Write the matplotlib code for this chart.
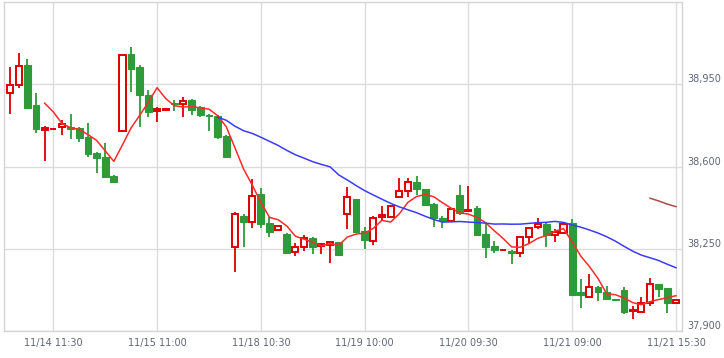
import numpy as np
import pandas as pd
import matplotlib
matplotlib.use("Agg")
import matplotlib.pyplot as plt

# 30-minute candles, 13 per session, 11/14 09:00 .. 11/21 15:30
opens = [38912, 38946, 39033, 38862, 38755, 38759, 38770, 38769, 38763, 38726,
         38658, 38641, 38560, 38752, 39080, 39025, 38905, 38835, 38841, 38872,
         38865, 38884, 38852, 38821, 38815, 38730, 38259, 38390, 38363, 38482,
         38359, 38330, 38313, 38236, 38256, 38296, 38261, 38266, 38279, 38397,
         38462, 38326, 38284, 38385, 38387, 38469, 38497, 38533, 38505, 38441,
         38380, 38370, 38479, 38410, 38425, 38313, 38262, 38243, 38242, 38231,
         38302, 38343, 38356, 38309, 38316, 38359, 38066, 38046, 38086, 38065,
         38036, 38075, 37984, 37982, 38018, 38100, 38082, 38020]
highs = [39023, 39082, 39057, 38912, 38773, 38762, 38798, 38824, 38767, 38784,
         38660, 38702, 38562, 39076, 39108, 39033, 38926, 38855, 38844, 38884,
         38896, 38888, 38858, 38824, 38820, 38732, 38408, 38397, 38547, 38508,
         38387, 38346, 38315, 38273, 38307, 38300, 38275, 38284, 38280, 38512,
         38463, 38342, 38390, 38434, 38431, 38550, 38550, 38561, 38506, 38446,
         38388, 38418, 38522, 38517, 38430, 38356, 38284, 38246, 38244, 38305,
         38344, 38380, 38364, 38333, 38362, 38376, 38120, 38141, 38090, 38092,
         38037, 38086, 38008, 38046, 38124, 38102, 38084, 38033]
lows = [38823, 38936, 38851, 38742, 38623, 38758, 38732, 38719, 38706, 38640,
        38571, 38550, 38534, 38751, 38919, 38767, 38810, 38789, 38840, 38838,
        38812, 38820, 38812, 38753, 38716, 38640, 38152, 38259, 38337, 38337,
        38302, 38330, 38230, 38221, 38242, 38227, 38227, 38188, 38222, 38333,
        38323, 38248, 38266, 38373, 38387, 38467, 38469, 38479, 38438, 38344,
        38337, 38370, 38394, 38410, 38305, 38210, 38233, 38242, 38185, 38216,
        38276, 38333, 38259, 38279, 38312, 38050, 37998, 38044, 38029, 38033,
        38033, 37971, 37951, 37975, 38008, 38043, 37975, 38018]
closes = [38946, 39027, 38851, 38759, 38764, 38761, 38780, 38761, 38723, 38655,
          38638, 38557, 38536, 39075, 39017, 38906, 38834, 38845, 38843, 38865,
          38879, 38842, 38818, 38817, 38727, 38642, 38397, 38365, 38476, 38357,
          38323, 38346, 38233, 38256, 38295, 38259, 38269, 38279, 38222, 38469,
          38323, 38287, 38382, 38394, 38431, 38497, 38533, 38506, 38438, 38382,
          38370, 38418, 38404, 38414, 38309, 38259, 38245, 38245, 38231, 38302,
          38337, 38354, 38309, 38322, 38357, 38053, 38052, 38086, 38065, 38035,
          38034, 37982, 37988, 38020, 38100, 38080, 38020, 38031]

tick_pos = [5, 17, 29, 41, 53, 65, 77]
tick_labels = ["11/14 11:30", "11/15 11:00", "11/18 10:30", "11/19 10:00",
               "11/20 09:30", "11/21 09:00", "11/21 15:30"]
price_ticks = [37900, 38250, 38600, 38950]

df = pd.DataFrame({"open": opens, "high": highs, "low": lows, "close": closes})
df["ma5"] = df["close"].rolling(5).mean()
df["ma25"] = df["close"].rolling(25).mean()
df["ma75"] = df["close"].rolling(75).mean()
idx = np.arange(len(df))

up_color = "#dd0000"
down_color = "#2e9a3a"
up = df["close"] >= df["open"]
colors = np.where(up, up_color, down_color)

fig = plt.figure(figsize=(7.24, 3.58), dpi=100)
ax = fig.add_axes([4 / 724, 27 / 358, 678 / 724, 329 / 358])

# wicks
ax.vlines(idx, df["low"], df["high"], colors=colors, lw=1.3, zorder=2)

# bodies
body_bottom = np.minimum(df["open"], df["close"])
body_height = (df["close"] - df["open"]).abs()
ax.bar(idx[up], body_height[up], bottom=body_bottom[up], width=0.7,
       facecolor="white", edgecolor=up_color, linewidth=1.4, zorder=3)
ax.bar(idx[~up], body_height[~up], bottom=body_bottom[~up], width=0.78,
       facecolor=down_color, edgecolor=down_color, linewidth=0.8, zorder=3)

# moving averages
ax.plot(idx, df["ma5"], color="#ff2a2a", lw=1.1, zorder=4)
ax.plot(idx, df["ma25"], color="#3b3bff", lw=1.1, zorder=4)
ax.plot(idx, df["ma75"], color="#b04a4a", lw=1.1, zorder=4)

ax.set_xlim(-0.7, 77.7)
ax.set_ylim(37900, 39300)

ax.set_xticks(tick_pos)
ax.set_xticklabels(tick_labels)
ax.yaxis.tick_right()
ax.set_yticks(price_ticks)
ax.set_yticklabels([f"{v:,}" for v in price_ticks])
for lbl in ax.get_yticklabels():
    lbl.set_va("bottom")
ax.tick_params(axis="both", length=0, labelsize=7, labelcolor="#5f6673")
ax.tick_params(axis="x", pad=5)
ax.tick_params(axis="y", pad=4)

ax.grid(True, color="#dcdcdc", lw=1)
ax.set_axisbelow(True)
for s in ax.spines.values():
    s.set_color("#d4d4d4")
    s.set_linewidth(1)

fig.savefig("out.png", dpi=100)
